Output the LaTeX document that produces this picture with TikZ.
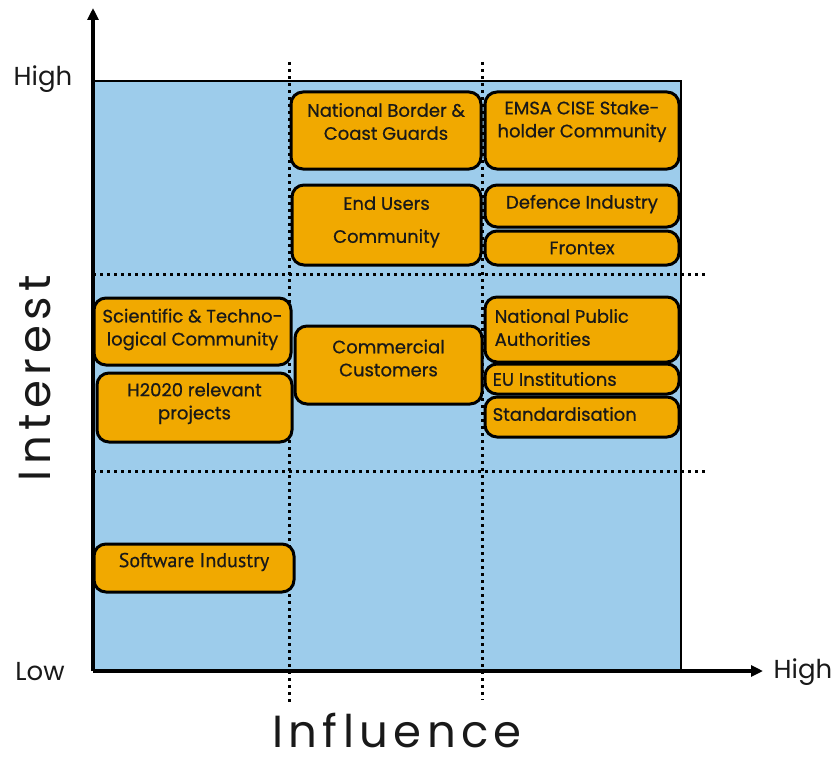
\documentclass[tikz,border=0pt]{standalone}
\usepackage{fontspec}
\usetikzlibrary{arrows.meta,positioning}
\newfontfamily\boxfont[FakeBold=0.7]{Poppins}
\newfontfamily\labelfont{Poppins}
\newfontfamily\narrowfont[FakeBold=0.5]{PT Sans}
\newfontfamily\axisfont[LetterSpace=12]{Poppins}
\definecolor{gridblue}{RGB}{157,204,235}
\definecolor{boxorange}{RGB}{241,169,0}
\tikzset{
  box/.style={draw=black, line width=3pt, fill=boxorange, rounded corners=12pt, inner sep=0pt},
  boxtext/.style={align=center, inner sep=0pt, text=black!90,
    font=\boxfont\fontsize{18}{23}\selectfont},
  dotline/.style={line width=3pt, dash pattern=on 3pt off 4pt},
  axislabel/.style={font=\labelfont\fontsize{26}{26}\selectfont, text=black!90},
  axistitle/.style={inner sep=0pt, font=\axisfont\fontsize{45}{45}\selectfont, text=black!90},
}
\begin{document}
\begin{tikzpicture}[x=1pt,y=-1pt]
\useasboundingbox (0,0) rectangle (837,757);

% grid
\fill[gridblue] (93,81) rectangle (681,671);
\draw[line width=2.5pt] (93,81) -- (681,81) -- (681,671);

\draw[dotline] (289,62) -- (289,705);
\draw[dotline] (482,62) -- (482,700);
\draw[dotline] (93,274) -- (705,274);
\draw[dotline] (93,471) -- (705,471);

% axes
\coordinate (origin) at (93,671);
\coordinate (ytop) at (93,8);
\coordinate (xend) at (763,671);
\draw[line width=3.5pt, -{Triangle[length=12pt,width=11pt]}] (origin) -- (ytop);
\draw[line width=4.5pt, -{Triangle[length=12pt,width=11pt]}] (origin) -- (xend);

\node[axislabel] (yhigh) at (43,79) {High};
\node[axislabel] (ylow) at (40,672) {Low};
\node[axislabel] (xhigh) at (803,672) {High};
\node[axistitle, rotate=90] (interest) at (35,378) {Interest};
\node[axistitle] (influence) at (397,731) {Influence};

% stakeholder boxes
\begin{scope}[every node/.style={box}]
  \node[minimum width=190pt, minimum height=77pt] (border)     at (386,130.5) {};
  \node[minimum width=194pt, minimum height=77pt] (emsa)       at (582,130.5) {};
  \node[minimum width=189pt, minimum height=80pt] (endusers)   at (386.5,225) {};
  \node[minimum width=194pt, minimum height=42pt] (defence)    at (582,206) {};
  \node[minimum width=194pt, minimum height=34pt] (frontex)    at (582,248) {};
  \node[minimum width=197pt, minimum height=67pt] (scitech)    at (192.5,331.5) {};
  \node[minimum width=195pt, minimum height=69pt] (htwenty)    at (194.5,407.5) {};
  \node[minimum width=187pt, minimum height=78pt] (commercial) at (388.5,365) {};
  \node[minimum width=194pt, minimum height=65pt] (natpublic)  at (582,329.5) {};
  \node[minimum width=194pt, minimum height=30pt] (euinst)     at (582,379) {};
  \node[minimum width=194pt, minimum height=40pt] (standard)   at (582,417) {};
  \node[minimum width=200pt, minimum height=48pt] (software)   at (194,568) {};
\end{scope}

\begin{scope}[every node/.style={boxtext}]
  \node (border-t)     at ([yshift=9pt]border.center)      {National Border \&\\Coast Guards};
  \node (emsa-t)       at ([yshift=9pt]emsa.center)        {EMSA CISE Stake-\\holder Community};
  \node (endusers-t)   at ([yshift=3pt]endusers.center)    {End Users\\[10pt]Community};
  \node (defence-t)    at ([yshift=2pt]defence.center)     {Defence Industry};
  \node (frontex-t)    at (frontex.center)                 {Frontex};
  \node (scitech-t)    at ([yshift=2pt]scitech.center)     {Scientific \& Techno-\\logical Community};
  \node (htwenty-t)    at ([yshift=4pt]htwenty.center)     {H2020 relevant\\projects};
  \node (commercial-t) at ([yshift=7pt]commercial.center)  {Commercial\\Customers};
  \node[align=left, anchor=west] (natpublic-t) at ([xshift=11pt,yshift=2pt]natpublic.west) {National Public\\Authorities};
  \node[anchor=west] (euinst-t)   at ([xshift=9pt]euinst.west)   {EU Institutions};
  \node[anchor=west] (standard-t) at ([xshift=9pt,yshift=3pt]standard.west) {Standardisation};
  \node[font=\narrowfont\fontsize{20}{22}\selectfont] (software-t) at ([yshift=6pt]software.center) {Software Industry};
\end{scope}

\end{tikzpicture}
\end{document}
